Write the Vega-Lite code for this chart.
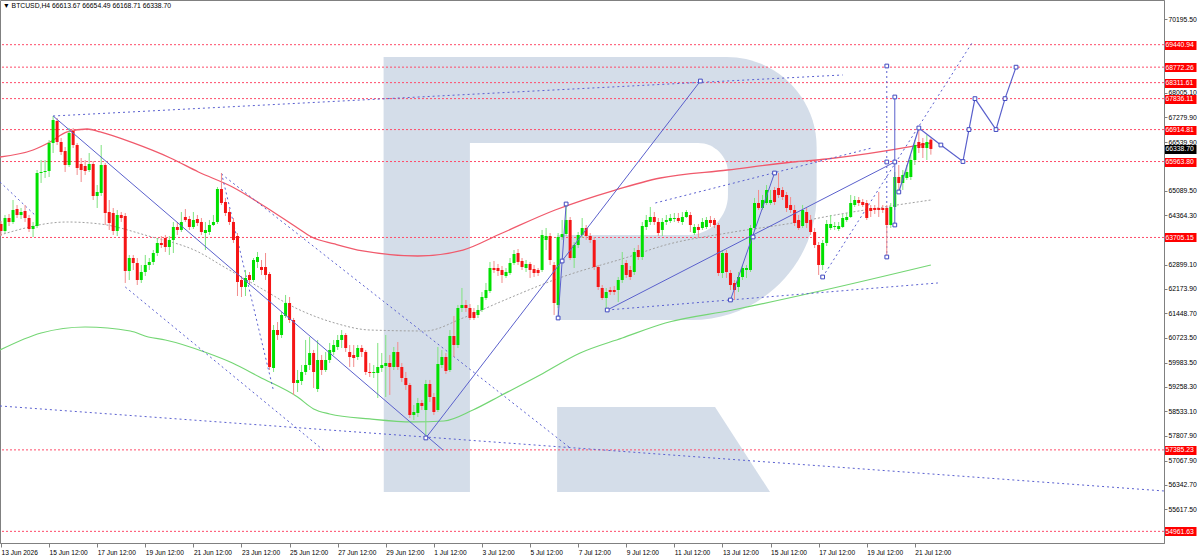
{
"$schema":"https://vega.github.io/schema/vega-lite/v6.json",
"width":1164,"height":543,
"autosize":{"type":"none"},
"padding":{"left":0,"top":0,"right":36,"bottom":12},
"background":"white",
"config":{"view":{"stroke":"#808080"},"font":"Liberation Sans"},
"title":{"text":"▼ BTCUSD,H4  66613.67 66654.49 66168.71 66338.70","anchor":"start","frame":"group","offset":-10,"dx":3,"fontSize":6.8,"fontWeight":"normal","font":"Liberation Sans","color":"#000000"},
"datasets":{
"logo":[
{"part":"bowl","t":"2026-06-29T10:00Z","t2":"2026-07-17T10:00Z","p":69074,"p2":61250},
{"part":"stem","t":"2026-06-29T10:00Z","t2":"2026-07-03T00:00Z","p":69074,"p2":56133},
{"part":"holeA","t":"2026-07-03T00:00Z","t2":"2026-07-13T17:30Z","p":66516,"p2":63779},
{"part":"holeB","t":"2026-07-03T00:00Z","t2":"2026-07-06T15:00Z","p":66516,"p2":61250}],
"leg":[
{"t":"2026-07-06T15:00Z","p":58662,"p2":56133},
{"t":"2026-07-13T04:36Z","p":58662,"p2":56133},
{"t":"2026-07-15T11:30Z","p":56133,"p2":56133}],
"lv":[{"p":69440.94},{"p":68772.26},{"p":68311.61},{"p":67836.11},{"p":66914.81},{"p":65963.80},{"p":63705.15},{"p":57385.23},{"p":54961.63}],
"ma":[
{"m":"red","t":"2026-06-13T11:00Z","p":66099},{"m":"red","t":"2026-06-14T20:00Z","p":66307},{"m":"red","t":"2026-06-15T13:00Z","p":66545},{"m":"red","t":"2026-06-16T06:00Z","p":66843},{"m":"red","t":"2026-06-17T02:00Z","p":66932},{"m":"red","t":"2026-06-17T15:00Z","p":66843},{"m":"red","t":"2026-06-19T00:00Z","p":66516},{"m":"red","t":"2026-06-20T13:00Z","p":66069},{"m":"red","t":"2026-06-21T17:00Z","p":65653},{"m":"red","t":"2026-06-23T03:00Z","p":65207},{"m":"red","t":"2026-06-24T12:00Z","p":64612},{"m":"red","t":"2026-06-25T20:00Z","p":63987},{"m":"red","t":"2026-06-26T10:00Z","p":63719},{"m":"red","t":"2026-06-27T09:00Z","p":63511},{"m":"red","t":"2026-06-28T13:00Z","p":63303},{"m":"red","t":"2026-06-30T20:00Z","p":63154},{"m":"red","t":"2026-07-02T17:00Z","p":63332},{"m":"red","t":"2026-07-04T06:00Z","p":63808},{"m":"red","t":"2026-07-06T13:00Z","p":64522},{"m":"red","t":"2026-07-09T01:00Z","p":65117},{"m":"red","t":"2026-07-10T22:00Z","p":65474},{"m":"red","t":"2026-07-13T17:00Z","p":65712},{"m":"red","t":"2026-07-16T10:00Z","p":65950},{"m":"red","t":"2026-07-17T20:00Z","p":66040},{"m":"red","t":"2026-07-21T12:00Z","p":66427},{"m":"red","t":"2026-07-22T04:00Z","p":66516},
{"m":"green","t":"2026-06-13T11:00Z","p":60357},{"m":"green","t":"2026-06-15T04:00Z","p":60863},{"m":"green","t":"2026-06-17T00:00Z","p":61042},{"m":"green","t":"2026-06-18T21:00Z","p":60923},{"m":"green","t":"2026-06-19T15:00Z","p":60744},{"m":"green","t":"2026-06-20T08:00Z","p":60655},{"m":"green","t":"2026-06-22T02:00Z","p":60268},{"m":"green","t":"2026-06-23T03:00Z","p":59971},{"m":"green","t":"2026-06-24T06:00Z","p":59554},{"m":"green","t":"2026-06-25T20:00Z","p":58959},{"m":"green","t":"2026-06-26T12:00Z","p":58602},{"m":"green","t":"2026-06-27T04:00Z","p":58454},{"m":"green","t":"2026-06-28T20:00Z","p":58305},{"m":"green","t":"2026-06-30T15:00Z","p":58216},{"m":"green","t":"2026-07-01T22:00Z","p":58245},{"m":"green","t":"2026-07-03T03:00Z","p":58572},{"m":"green","t":"2026-07-04T06:00Z","p":58989},{"m":"green","t":"2026-07-05T22:00Z","p":59614},{"m":"green","t":"2026-07-07T14:00Z","p":60268},{"m":"green","t":"2026-07-09T08:00Z","p":60714},{"m":"green","t":"2026-07-11T03:00Z","p":61161},{"m":"green","t":"2026-07-13T22:00Z","p":61547},{"m":"green","t":"2026-07-17T18:00Z","p":62142},{"m":"green","t":"2026-07-22T04:00Z","p":62886},
{"m":"gray","t":"2026-06-13T11:00Z","p":63779},{"m":"gray","t":"2026-06-16T06:00Z","p":64165},{"m":"gray","t":"2026-06-17T15:00Z","p":64106},{"m":"gray","t":"2026-06-19T15:00Z","p":63749},{"m":"gray","t":"2026-06-21T17:00Z","p":63273},{"m":"gray","t":"2026-06-22T17:00Z","p":62856},{"m":"gray","t":"2026-06-24T07:00Z","p":62202},{"m":"gray","t":"2026-06-25T18:00Z","p":61607},{"m":"gray","t":"2026-06-27T09:00Z","p":61161},{"m":"gray","t":"2026-06-28T20:00Z","p":60952},{"m":"gray","t":"2026-07-01T03:00Z","p":60923},{"m":"gray","t":"2026-07-02T17:00Z","p":61309},{"m":"gray","t":"2026-07-04T06:00Z","p":61785},{"m":"gray","t":"2026-07-06T20:00Z","p":62529},{"m":"gray","t":"2026-07-09T14:00Z","p":63124},{"m":"gray","t":"2026-07-11T03:00Z","p":63481},{"m":"gray","t":"2026-07-13T17:00Z","p":63838},{"m":"gray","t":"2026-07-16T10:00Z","p":64136},{"m":"gray","t":"2026-07-17T23:00Z","p":64344},{"m":"gray","t":"2026-07-22T04:00Z","p":64820}],
"seg":[
{"k":"s","t":"2026-06-15T16:00Z","p":67319,"t2":"2026-07-01T21:00Z","p2":57382},
{"k":"s","t":"2026-07-01T04:00Z","p":57740,"t2":"2026-07-12T14:00Z","p2":68360},
{"k":"s","t":"2026-07-06T16:00Z","p":61309,"t2":"2026-07-07T00:00Z","p2":64701},
{"k":"s","t":"2026-07-08T17:00Z","p":61547,"t2":"2026-07-20T16:00Z","p2":65950},
{"k":"s","t":"2026-07-13T20:00Z","p":61845,"t2":"2026-07-15T16:00Z","p2":65623},
{"k":"s","t":"2026-07-20T16:00Z","p":67884,"t2":"2026-07-20T16:00Z","p2":64076},
{"k":"d","t":"2026-06-15T16:00Z","p":67319,"t2":"2026-07-18T12:00Z","p2":68539},
{"k":"d","t":"2026-06-13T11:00Z","p":65355,"t2":"2026-06-15T01:00Z","p2":64284},
{"k":"d","t":"2026-06-18T16:00Z","p":62232,"t2":"2026-06-27T00:00Z","p2":57323},
{"k":"d","t":"2026-06-22T16:00Z","p":65623,"t2":"2026-06-24T20:00Z","p2":59138},
{"k":"d","t":"2026-06-22T16:00Z","p":65593,"t2":"2026-07-07T04:00Z","p2":57442},
{"k":"d","t":"2026-06-13T11:00Z","p":58692,"t2":"2026-07-31T20:40Z","p2":56163},
{"k":"d","t":"2026-07-08T17:00Z","p":61547,"t2":"2026-07-22T11:00Z","p2":62351},
{"k":"d","t":"2026-07-10T17:00Z","p":64731,"t2":"2026-07-19T17:00Z","p2":66367},
{"k":"d","t":"2026-07-17T16:00Z","p":62529,"t2":"2026-07-23T21:00Z","p2":69491},
{"k":"d","t":"2026-07-20T08:00Z","p":68806,"t2":"2026-07-20T08:00Z","p2":63124}],
"fc":[
{"t":"2026-07-20T20:00Z","p":65058},{"t":"2026-07-21T16:00Z","p":66962},{"t":"2026-07-22T14:00Z","p":66456},{"t":"2026-07-23T12:00Z","p":65964},{"t":"2026-07-23T18:00Z","p":66915},{"t":"2026-07-24T00:00Z","p":67836},{"t":"2026-07-24T21:00Z","p":66915},{"t":"2026-07-25T06:00Z","p":67836},{"t":"2026-07-25T17:00Z","p":68772}],
"pts":[
{"t":"2026-07-01T04:00Z","p":57740},{"t":"2026-07-06T16:00Z","p":61309},{"t":"2026-07-07T00:00Z","p":64701},{"t":"2026-07-06T20:00Z","p":63005},{"t":"2026-07-08T17:00Z","p":61547},{"t":"2026-07-12T14:00Z","p":68360},{"t":"2026-07-13T20:00Z","p":61845},{"t":"2026-07-15T16:00Z","p":65623},{"t":"2026-07-14T18:30Z","p":63719},{"t":"2026-07-17T16:00Z","p":62529},{"t":"2026-07-20T08:00Z","p":68806},{"t":"2026-07-20T08:00Z","p":65950},{"t":"2026-07-20T08:00Z","p":63124},{"t":"2026-07-20T16:00Z","p":67884},{"t":"2026-07-20T16:00Z","p":65950},{"t":"2026-07-20T16:00Z","p":64076},
{"t":"2026-07-20T20:00Z","p":65058},{"t":"2026-07-21T16:00Z","p":66962},{"t":"2026-07-22T14:00Z","p":66456},{"t":"2026-07-23T12:00Z","p":65964},{"t":"2026-07-23T18:00Z","p":66915},{"t":"2026-07-24T00:00Z","p":67836},{"t":"2026-07-24T21:00Z","p":66915},{"t":"2026-07-25T06:00Z","p":67836},{"t":"2026-07-25T17:00Z","p":68772}],
"k":[
{"t":"2026-06-13T12:00Z","o":64106,"h":64195,"l":63749,"c":63898},
{"t":"2026-06-13T16:00Z","o":63898,"h":64374,"l":63838,"c":64284},
{"t":"2026-06-13T20:00Z","o":64284,"h":64403,"l":64046,"c":64166},
{"t":"2026-06-14T00:00Z","o":64166,"h":64820,"l":64106,"c":64522},
{"t":"2026-06-14T04:00Z","o":64552,"h":64671,"l":64284,"c":64374},
{"t":"2026-06-14T08:00Z","o":64374,"h":64582,"l":64255,"c":64463},
{"t":"2026-06-14T12:00Z","o":64493,"h":64671,"l":64166,"c":64284},
{"t":"2026-06-14T16:00Z","o":64284,"h":64374,"l":63868,"c":63957},
{"t":"2026-06-14T20:00Z","o":63957,"h":64166,"l":63719,"c":64046},
{"t":"2026-06-15T00:00Z","o":64046,"h":65712,"l":63987,"c":65623},
{"t":"2026-06-15T04:00Z","o":65623,"h":66010,"l":65326,"c":65653},
{"t":"2026-06-15T08:00Z","o":65653,"h":66010,"l":65474,"c":65683},
{"t":"2026-06-15T12:00Z","o":65683,"h":66605,"l":65504,"c":66516},
{"t":"2026-06-15T16:00Z","o":66516,"h":67319,"l":66218,"c":67200},
{"t":"2026-06-15T20:00Z","o":67170,"h":67260,"l":66456,"c":66546},
{"t":"2026-06-16T00:00Z","o":66546,"h":66665,"l":66159,"c":66248},
{"t":"2026-06-16T04:00Z","o":66278,"h":66397,"l":65653,"c":65861},
{"t":"2026-06-16T08:00Z","o":65861,"h":66962,"l":65802,"c":66813},
{"t":"2026-06-16T12:00Z","o":66873,"h":66962,"l":66367,"c":66456},
{"t":"2026-06-16T16:00Z","o":66456,"h":66516,"l":65564,"c":65772},
{"t":"2026-06-16T20:00Z","o":65891,"h":66069,"l":65355,"c":65712},
{"t":"2026-06-17T00:00Z","o":65832,"h":66010,"l":65564,"c":65683},
{"t":"2026-06-17T04:00Z","o":65712,"h":66218,"l":65653,"c":65891},
{"t":"2026-06-17T08:00Z","o":65891,"h":65980,"l":64820,"c":64939},
{"t":"2026-06-17T12:00Z","o":64939,"h":65266,"l":64582,"c":65058},
{"t":"2026-06-17T16:00Z","o":65028,"h":66456,"l":64939,"c":65861},
{"t":"2026-06-17T20:00Z","o":65861,"h":65921,"l":64076,"c":64433},
{"t":"2026-06-18T00:00Z","o":64463,"h":64820,"l":63928,"c":64136},
{"t":"2026-06-18T04:00Z","o":64433,"h":64582,"l":63779,"c":63898},
{"t":"2026-06-18T08:00Z","o":63898,"h":64522,"l":63749,"c":64374},
{"t":"2026-06-18T12:00Z","o":64374,"h":64463,"l":64166,"c":64284},
{"t":"2026-06-18T16:00Z","o":64344,"h":64433,"l":62351,"c":62708},
{"t":"2026-06-18T20:00Z","o":62708,"h":63184,"l":62440,"c":63094},
{"t":"2026-06-19T00:00Z","o":63094,"h":63184,"l":62738,"c":62946},
{"t":"2026-06-19T04:00Z","o":62946,"h":63094,"l":62291,"c":62440},
{"t":"2026-06-19T08:00Z","o":62440,"h":62886,"l":62351,"c":62678},
{"t":"2026-06-19T12:00Z","o":62678,"h":63184,"l":62559,"c":62886},
{"t":"2026-06-19T16:00Z","o":62886,"h":63094,"l":62738,"c":62976},
{"t":"2026-06-19T20:00Z","o":62976,"h":63332,"l":62886,"c":63243},
{"t":"2026-06-20T00:00Z","o":63243,"h":63690,"l":63154,"c":63541},
{"t":"2026-06-20T04:00Z","o":63541,"h":63749,"l":63392,"c":63481},
{"t":"2026-06-20T08:00Z","o":63690,"h":63779,"l":63273,"c":63422},
{"t":"2026-06-20T12:00Z","o":63422,"h":63749,"l":63184,"c":63630},
{"t":"2026-06-20T16:00Z","o":63630,"h":64166,"l":63243,"c":64017},
{"t":"2026-06-20T20:00Z","o":64017,"h":64166,"l":63779,"c":63928},
{"t":"2026-06-21T00:00Z","o":63928,"h":64463,"l":63868,"c":64166},
{"t":"2026-06-21T04:00Z","o":64314,"h":64552,"l":64166,"c":64225},
{"t":"2026-06-21T08:00Z","o":64255,"h":64344,"l":63928,"c":64017},
{"t":"2026-06-21T12:00Z","o":64017,"h":64463,"l":63957,"c":64225},
{"t":"2026-06-21T16:00Z","o":64255,"h":64374,"l":64046,"c":64136},
{"t":"2026-06-21T20:00Z","o":64166,"h":64284,"l":63779,"c":63868},
{"t":"2026-06-22T00:00Z","o":63838,"h":64166,"l":63332,"c":63928},
{"t":"2026-06-22T04:00Z","o":63868,"h":64225,"l":63779,"c":64076},
{"t":"2026-06-22T08:00Z","o":64076,"h":64374,"l":64046,"c":64166},
{"t":"2026-06-22T12:00Z","o":64166,"h":65207,"l":64106,"c":65147},
{"t":"2026-06-22T16:00Z","o":65147,"h":65623,"l":64671,"c":64731},
{"t":"2026-06-22T20:00Z","o":64760,"h":64880,"l":64344,"c":64433},
{"t":"2026-06-23T00:00Z","o":64463,"h":64582,"l":64076,"c":64166},
{"t":"2026-06-23T04:00Z","o":64166,"h":64284,"l":63541,"c":63630},
{"t":"2026-06-23T08:00Z","o":63749,"h":63838,"l":61964,"c":62380},
{"t":"2026-06-23T12:00Z","o":62440,"h":62559,"l":61934,"c":62232},
{"t":"2026-06-23T16:00Z","o":62232,"h":62738,"l":61964,"c":62500},
{"t":"2026-06-23T20:00Z","o":62589,"h":62678,"l":62291,"c":62440},
{"t":"2026-06-24T00:00Z","o":62440,"h":63094,"l":62380,"c":63035},
{"t":"2026-06-24T04:00Z","o":62976,"h":63273,"l":62797,"c":63124},
{"t":"2026-06-24T08:00Z","o":62827,"h":63035,"l":62589,"c":62738},
{"t":"2026-06-24T12:00Z","o":62827,"h":63243,"l":62440,"c":62589},
{"t":"2026-06-24T16:00Z","o":62619,"h":62678,"l":59762,"c":59852},
{"t":"2026-06-24T20:00Z","o":59822,"h":61101,"l":59703,"c":60952},
{"t":"2026-06-25T00:00Z","o":60952,"h":61190,"l":60655,"c":60804},
{"t":"2026-06-25T04:00Z","o":60804,"h":61488,"l":60714,"c":61399},
{"t":"2026-06-25T08:00Z","o":61369,"h":61994,"l":61309,"c":61756},
{"t":"2026-06-25T12:00Z","o":61756,"h":61934,"l":61161,"c":61250},
{"t":"2026-06-25T16:00Z","o":61250,"h":61310,"l":59019,"c":59376},
{"t":"2026-06-25T20:00Z","o":59376,"h":59762,"l":59108,"c":59465},
{"t":"2026-06-26T00:00Z","o":59435,"h":59911,"l":59316,"c":59703},
{"t":"2026-06-26T04:00Z","o":59703,"h":60655,"l":59614,"c":59911},
{"t":"2026-06-26T08:00Z","o":59911,"h":60744,"l":59762,"c":60268},
{"t":"2026-06-26T12:00Z","o":60268,"h":60358,"l":59227,"c":59703},
{"t":"2026-06-26T16:00Z","o":59197,"h":60655,"l":59108,"c":60060},
{"t":"2026-06-26T20:00Z","o":60060,"h":60209,"l":59614,"c":59762},
{"t":"2026-06-27T00:00Z","o":59762,"h":60298,"l":59703,"c":60060},
{"t":"2026-06-27T04:00Z","o":60060,"h":60566,"l":59971,"c":60358},
{"t":"2026-06-27T08:00Z","o":60298,"h":60655,"l":60209,"c":60506},
{"t":"2026-06-27T12:00Z","o":60447,"h":60804,"l":60358,"c":60655},
{"t":"2026-06-27T16:00Z","o":60655,"h":60952,"l":60417,"c":60804},
{"t":"2026-06-27T20:00Z","o":60804,"h":60863,"l":60298,"c":60417},
{"t":"2026-06-28T00:00Z","o":60298,"h":60506,"l":59852,"c":60149},
{"t":"2026-06-28T04:00Z","o":60209,"h":60506,"l":59852,"c":60119},
{"t":"2026-06-28T08:00Z","o":60149,"h":60506,"l":60060,"c":60417},
{"t":"2026-06-28T12:00Z","o":60417,"h":60506,"l":60149,"c":60298},
{"t":"2026-06-28T16:00Z","o":60298,"h":60358,"l":59614,"c":59703},
{"t":"2026-06-28T20:00Z","o":59703,"h":59971,"l":59554,"c":59673},
{"t":"2026-06-29T00:00Z","o":59673,"h":59911,"l":59524,"c":59703},
{"t":"2026-06-29T04:00Z","o":59673,"h":60566,"l":58929,"c":59852},
{"t":"2026-06-29T08:00Z","o":59822,"h":60268,"l":59703,"c":59911},
{"t":"2026-06-29T12:00Z","o":59881,"h":60804,"l":58959,"c":59971},
{"t":"2026-06-29T16:00Z","o":59971,"h":60209,"l":59019,"c":59852},
{"t":"2026-06-29T20:00Z","o":59852,"h":60447,"l":59762,"c":60298},
{"t":"2026-06-30T00:00Z","o":60298,"h":60595,"l":59762,"c":59852},
{"t":"2026-06-30T04:00Z","o":59852,"h":59971,"l":59406,"c":59524},
{"t":"2026-06-30T08:00Z","o":59524,"h":59703,"l":59168,"c":59316},
{"t":"2026-06-30T12:00Z","o":59316,"h":59376,"l":58334,"c":58424},
{"t":"2026-06-30T16:00Z","o":58424,"h":58721,"l":58275,"c":58513},
{"t":"2026-06-30T20:00Z","o":58483,"h":58930,"l":58364,"c":58781},
{"t":"2026-07-01T00:00Z","o":58781,"h":58870,"l":58572,"c":58692},
{"t":"2026-07-01T04:00Z","o":58572,"h":59465,"l":57740,"c":59346},
{"t":"2026-07-01T08:00Z","o":59346,"h":59465,"l":58810,"c":58959},
{"t":"2026-07-01T12:00Z","o":58959,"h":59078,"l":58424,"c":58513},
{"t":"2026-07-01T16:00Z","o":58572,"h":60447,"l":58513,"c":59941},
{"t":"2026-07-01T20:00Z","o":59911,"h":60358,"l":59822,"c":60149},
{"t":"2026-07-02T00:00Z","o":60149,"h":60268,"l":59643,"c":59733},
{"t":"2026-07-02T04:00Z","o":59762,"h":60952,"l":59703,"c":60774},
{"t":"2026-07-02T08:00Z","o":60774,"h":61369,"l":60149,"c":60506},
{"t":"2026-07-02T12:00Z","o":60506,"h":61696,"l":60417,"c":61607},
{"t":"2026-07-02T16:00Z","o":61607,"h":62202,"l":61488,"c":61696},
{"t":"2026-07-02T20:00Z","o":61696,"h":61845,"l":61488,"c":61607},
{"t":"2026-07-03T00:00Z","o":61607,"h":61726,"l":61250,"c":61310},
{"t":"2026-07-03T04:00Z","o":61488,"h":61607,"l":61250,"c":61310},
{"t":"2026-07-03T08:00Z","o":61399,"h":61696,"l":61310,"c":61548},
{"t":"2026-07-03T12:00Z","o":61548,"h":62083,"l":61488,"c":61934},
{"t":"2026-07-03T16:00Z","o":61904,"h":62351,"l":61845,"c":62142},
{"t":"2026-07-03T20:00Z","o":62113,"h":62976,"l":62053,"c":62797},
{"t":"2026-07-04T00:00Z","o":62797,"h":63005,"l":62648,"c":62738},
{"t":"2026-07-04T04:00Z","o":62797,"h":62916,"l":62559,"c":62708},
{"t":"2026-07-04T08:00Z","o":62738,"h":62856,"l":62351,"c":62589},
{"t":"2026-07-04T12:00Z","o":62559,"h":62797,"l":62500,"c":62678},
{"t":"2026-07-04T16:00Z","o":62648,"h":63094,"l":62589,"c":62946},
{"t":"2026-07-04T20:00Z","o":62946,"h":63332,"l":62886,"c":63213},
{"t":"2026-07-05T00:00Z","o":63243,"h":63362,"l":62886,"c":62976},
{"t":"2026-07-05T04:00Z","o":63005,"h":63094,"l":62738,"c":62827},
{"t":"2026-07-05T08:00Z","o":62797,"h":63035,"l":62678,"c":62916},
{"t":"2026-07-05T12:00Z","o":62916,"h":62976,"l":62500,"c":62738},
{"t":"2026-07-05T16:00Z","o":62767,"h":62886,"l":62529,"c":62648},
{"t":"2026-07-05T20:00Z","o":62738,"h":62797,"l":62559,"c":62648},
{"t":"2026-07-06T00:00Z","o":62738,"h":63928,"l":62678,"c":63779},
{"t":"2026-07-06T04:00Z","o":63630,"h":63987,"l":63332,"c":63749},
{"t":"2026-07-06T08:00Z","o":63749,"h":63838,"l":62886,"c":63035},
{"t":"2026-07-06T12:00Z","o":62886,"h":62976,"l":61399,"c":61756},
{"t":"2026-07-06T16:00Z","o":61696,"h":63838,"l":61607,"c":63719},
{"t":"2026-07-06T20:00Z","o":63719,"h":64225,"l":63630,"c":63808},
{"t":"2026-07-07T00:00Z","o":63808,"h":64701,"l":63749,"c":64225},
{"t":"2026-07-07T04:00Z","o":64225,"h":64314,"l":63035,"c":63094},
{"t":"2026-07-07T08:00Z","o":63094,"h":63570,"l":62797,"c":63481},
{"t":"2026-07-07T12:00Z","o":63481,"h":63868,"l":63392,"c":63779},
{"t":"2026-07-07T16:00Z","o":63779,"h":64284,"l":63690,"c":63987},
{"t":"2026-07-07T20:00Z","o":63987,"h":64076,"l":63630,"c":63749},
{"t":"2026-07-08T00:00Z","o":63749,"h":63838,"l":63541,"c":63630},
{"t":"2026-07-08T04:00Z","o":63630,"h":63719,"l":62738,"c":62827},
{"t":"2026-07-08T08:00Z","o":62827,"h":62886,"l":62142,"c":62232},
{"t":"2026-07-08T12:00Z","o":62202,"h":62291,"l":61845,"c":61904},
{"t":"2026-07-08T16:00Z","o":61904,"h":62202,"l":61548,"c":62083},
{"t":"2026-07-08T20:00Z","o":62142,"h":62232,"l":61994,"c":62083},
{"t":"2026-07-09T00:00Z","o":62142,"h":62261,"l":61994,"c":62083},
{"t":"2026-07-09T04:00Z","o":62142,"h":62529,"l":61785,"c":62440},
{"t":"2026-07-09T08:00Z","o":62440,"h":63273,"l":62351,"c":62886},
{"t":"2026-07-09T12:00Z","o":62946,"h":63035,"l":62500,"c":62589},
{"t":"2026-07-09T16:00Z","o":62738,"h":62856,"l":62440,"c":62529},
{"t":"2026-07-09T20:00Z","o":62678,"h":63392,"l":62589,"c":63273},
{"t":"2026-07-10T00:00Z","o":63332,"h":63481,"l":63035,"c":63124},
{"t":"2026-07-10T04:00Z","o":63124,"h":64166,"l":63035,"c":64046},
{"t":"2026-07-10T08:00Z","o":64017,"h":64374,"l":63928,"c":64225},
{"t":"2026-07-10T12:00Z","o":64166,"h":64612,"l":64076,"c":64314},
{"t":"2026-07-10T16:00Z","o":64314,"h":64463,"l":64076,"c":64166},
{"t":"2026-07-10T20:00Z","o":64166,"h":64284,"l":63749,"c":63838},
{"t":"2026-07-11T00:00Z","o":63928,"h":64284,"l":63749,"c":64166},
{"t":"2026-07-11T04:00Z","o":64166,"h":64374,"l":64076,"c":64225},
{"t":"2026-07-11T08:00Z","o":64195,"h":64403,"l":64136,"c":64284},
{"t":"2026-07-11T12:00Z","o":64255,"h":64433,"l":64166,"c":64284},
{"t":"2026-07-11T16:00Z","o":64284,"h":64433,"l":64136,"c":64195},
{"t":"2026-07-11T20:00Z","o":64166,"h":64463,"l":64076,"c":64314},
{"t":"2026-07-12T00:00Z","o":64314,"h":64522,"l":64284,"c":64463},
{"t":"2026-07-12T04:00Z","o":64374,"h":64463,"l":63868,"c":64076},
{"t":"2026-07-12T08:00Z","o":63838,"h":64106,"l":63779,"c":64017},
{"t":"2026-07-12T12:00Z","o":64017,"h":64106,"l":63690,"c":63928},
{"t":"2026-07-12T16:00Z","o":63987,"h":64284,"l":63928,"c":64166},
{"t":"2026-07-12T20:00Z","o":64017,"h":64314,"l":63957,"c":64225},
{"t":"2026-07-13T00:00Z","o":64225,"h":64344,"l":64017,"c":64136},
{"t":"2026-07-13T04:00Z","o":64225,"h":64284,"l":63987,"c":64076},
{"t":"2026-07-13T08:00Z","o":64076,"h":64136,"l":62559,"c":62648},
{"t":"2026-07-13T12:00Z","o":62648,"h":63332,"l":62500,"c":63243},
{"t":"2026-07-13T16:00Z","o":63243,"h":63332,"l":62500,"c":62678},
{"t":"2026-07-13T20:00Z","o":62648,"h":62738,"l":62142,"c":62291},
{"t":"2026-07-14T00:00Z","o":62351,"h":62440,"l":61845,"c":62142},
{"t":"2026-07-14T04:00Z","o":62232,"h":62678,"l":62083,"c":62529},
{"t":"2026-07-14T08:00Z","o":62529,"h":62886,"l":62440,"c":62797},
{"t":"2026-07-14T12:00Z","o":62738,"h":62886,"l":62500,"c":62797},
{"t":"2026-07-14T16:00Z","o":62738,"h":64076,"l":62678,"c":63987},
{"t":"2026-07-14T20:00Z","o":63987,"h":64880,"l":63928,"c":64731},
{"t":"2026-07-15T00:00Z","o":64731,"h":65118,"l":64522,"c":64582},
{"t":"2026-07-15T04:00Z","o":64582,"h":64969,"l":64522,"c":64820},
{"t":"2026-07-15T08:00Z","o":64731,"h":65266,"l":64671,"c":65118},
{"t":"2026-07-15T12:00Z","o":64731,"h":65118,"l":64671,"c":64820},
{"t":"2026-07-15T16:00Z","o":65118,"h":65207,"l":64671,"c":64760},
{"t":"2026-07-15T20:00Z","o":65177,"h":65623,"l":64880,"c":64969},
{"t":"2026-07-16T00:00Z","o":65118,"h":65207,"l":64820,"c":64909},
{"t":"2026-07-16T04:00Z","o":64969,"h":65058,"l":64463,"c":64582},
{"t":"2026-07-16T08:00Z","o":64671,"h":64909,"l":64433,"c":64522},
{"t":"2026-07-16T12:00Z","o":64522,"h":64671,"l":64046,"c":64136},
{"t":"2026-07-16T16:00Z","o":64225,"h":64374,"l":63928,"c":63987},
{"t":"2026-07-16T20:00Z","o":64046,"h":64671,"l":63987,"c":64522},
{"t":"2026-07-17T00:00Z","o":64463,"h":64582,"l":63987,"c":64136},
{"t":"2026-07-17T04:00Z","o":64225,"h":64374,"l":63779,"c":63868},
{"t":"2026-07-17T08:00Z","o":63868,"h":63987,"l":63392,"c":63481},
{"t":"2026-07-17T12:00Z","o":63481,"h":63570,"l":62589,"c":62886},
{"t":"2026-07-17T16:00Z","o":62886,"h":63630,"l":62738,"c":63541},
{"t":"2026-07-17T20:00Z","o":63541,"h":64225,"l":63451,"c":64106},
{"t":"2026-07-18T00:00Z","o":63987,"h":64374,"l":63928,"c":64106},
{"t":"2026-07-18T04:00Z","o":64017,"h":64166,"l":63928,"c":64046},
{"t":"2026-07-18T08:00Z","o":63957,"h":64166,"l":63898,"c":64046},
{"t":"2026-07-18T12:00Z","o":64017,"h":64403,"l":63987,"c":64284},
{"t":"2026-07-18T16:00Z","o":64225,"h":64433,"l":64166,"c":64314},
{"t":"2026-07-18T20:00Z","o":64314,"h":64969,"l":64284,"c":64731},
{"t":"2026-07-19T00:00Z","o":64671,"h":64939,"l":64612,"c":64820},
{"t":"2026-07-19T04:00Z","o":64820,"h":64909,"l":64641,"c":64731},
{"t":"2026-07-19T08:00Z","o":64760,"h":64850,"l":64612,"c":64671},
{"t":"2026-07-19T12:00Z","o":64731,"h":64820,"l":64225,"c":64284},
{"t":"2026-07-19T16:00Z","o":64582,"h":64671,"l":64314,"c":64493},
{"t":"2026-07-19T20:00Z","o":64582,"h":64671,"l":64403,"c":64522},
{"t":"2026-07-20T00:00Z","o":64582,"h":65058,"l":64314,"c":64522},
{"t":"2026-07-20T04:00Z","o":64582,"h":64671,"l":64433,"c":64522},
{"t":"2026-07-20T08:00Z","o":64582,"h":64671,"l":63154,"c":64076},
{"t":"2026-07-20T12:00Z","o":64076,"h":64731,"l":63987,"c":64612},
{"t":"2026-07-20T16:00Z","o":64612,"h":65653,"l":64522,"c":65504},
{"t":"2026-07-20T20:00Z","o":65504,"h":65861,"l":65058,"c":65326},
{"t":"2026-07-21T00:00Z","o":65326,"h":65712,"l":65118,"c":65564},
{"t":"2026-07-21T04:00Z","o":65474,"h":65861,"l":65415,"c":65653},
{"t":"2026-07-21T08:00Z","o":65504,"h":66159,"l":65415,"c":66010},
{"t":"2026-07-21T12:00Z","o":66010,"h":66605,"l":65861,"c":66456},
{"t":"2026-07-21T16:00Z","o":66546,"h":66962,"l":66218,"c":66367},
{"t":"2026-07-21T20:00Z","o":66516,"h":66665,"l":66069,"c":66367},
{"t":"2026-07-22T00:00Z","o":66367,"h":66754,"l":66010,"c":66546},
{"t":"2026-07-22T04:00Z","o":66613.67,"h":66654.49,"l":66168.71,"c":66338.70}]
},
"layer":[
{"data":{"name":"logo"},"transform":[{"filter":"datum.part == 'bowl'"}],
 "mark":{"type":"rect","color":"#d4dde9","cornerRadiusTopRight":90,"cornerRadiusBottomRight":125},
 "encoding":{
  "x":{"field":"t","type":"temporal","title":null,
   "scale":{"type":"utc","domain":[{"year":2026,"month":6,"date":13,"hours":11,"utc":true},{"year":2026,"month":7,"date":31,"hours":20,"minutes":40,"utc":true}]},
   "axis":{"grid":false,"title":null,"orient":"bottom","tickCount":200,
    "values":[{"year":2026,"month":6,"date":13,"hours":12,"utc":true},{"year":2026,"month":6,"date":15,"hours":12,"utc":true},{"year":2026,"month":6,"date":17,"hours":12,"utc":true},{"year":2026,"month":6,"date":19,"hours":12,"utc":true},{"year":2026,"month":6,"date":21,"hours":12,"utc":true},{"year":2026,"month":6,"date":23,"hours":12,"utc":true},{"year":2026,"month":6,"date":25,"hours":12,"utc":true},{"year":2026,"month":6,"date":27,"hours":12,"utc":true},{"year":2026,"month":6,"date":29,"hours":12,"utc":true},{"year":2026,"month":7,"date":1,"hours":12,"utc":true},{"year":2026,"month":7,"date":3,"hours":12,"utc":true},{"year":2026,"month":7,"date":5,"hours":12,"utc":true},{"year":2026,"month":7,"date":7,"hours":12,"utc":true},{"year":2026,"month":7,"date":9,"hours":12,"utc":true},{"year":2026,"month":7,"date":11,"hours":12,"utc":true},{"year":2026,"month":7,"date":13,"hours":12,"utc":true},{"year":2026,"month":7,"date":15,"hours":12,"utc":true},{"year":2026,"month":7,"date":17,"hours":12,"utc":true},{"year":2026,"month":7,"date":19,"hours":12,"utc":true},{"year":2026,"month":7,"date":21,"hours":12,"utc":true}],
    "labelExpr":"(utcdate(datum.value) == 13 && utcmonth(datum.value) == 5) ? '13 Jun 2026' : utcFormat(datum.value, '%-d %b %H:%M')",
    "labelAlign":"left","labelBaseline":"top","labelPadding":2,"labelFlush":false,"labelOverlap":false,
    "labelFont":"Liberation Sans","labelFontSize":6.6,"labelColor":"#000000",
    "tickSize":4,"tickColor":"#808080","domainColor":"#808080"}},
  "x2":{"field":"t2"},
  "y":{"field":"p","type":"quantitative","title":null,
   "scale":{"domain":[54615,70770],"zero":false,"nice":false},
   "axis":{"orient":"right","grid":false,"title":null,"format":".2f","tickCount":200,
    "values":[70195.5,69440.94,68772.26,68311.61,68005.1,67836.11,67279.9,66914.81,66539.9,66338.7,65963.8,65089.5,64364.3,63705.15,62899.1,62173.9,61448.7,60723.5,59983.5,59258.3,58533.1,57807.9,57385.23,57067.9,56342.7,55617.5,54961.63],
    "labelOverlap":false,"labelFlush":false,"labelFont":"Liberation Sans","labelFontSize":6.8,"labelBaseline":"middle",
    "domainColor":"#808080",
    "tickColor":{"condition":[{"test":"datum.value == 66338.7","value":"#000000"},{"test":"indexof([69440.94,68772.26,68311.61,67836.11,66914.81,65963.8,63705.15,57385.23,54961.63], datum.value) >= 0","value":"#ff0000"}],"value":"#808080"},
    "tickSize":{"condition":{"test":"indexof([69440.94,68772.26,68311.61,67836.11,66914.81,65963.8,63705.15,57385.23,54961.63,66338.7], datum.value) >= 0","value":32},"value":3},
    "tickWidth":{"condition":{"test":"indexof([69440.94,68772.26,68311.61,67836.11,66914.81,65963.8,63705.15,57385.23,54961.63,66338.7], datum.value) >= 0","value":9},"value":1},
    "labelPadding":{"condition":{"test":"indexof([69440.94,68772.26,68311.61,67836.11,66914.81,65963.8,63705.15,57385.23,54961.63,66338.7], datum.value) >= 0","value":-31},"value":1},
    "labelColor":{"condition":{"test":"indexof([69440.94,68772.26,68311.61,67836.11,66914.81,65963.8,63705.15,57385.23,54961.63,66338.7], datum.value) >= 0","value":"#ffffff"},"value":"#000000"}}},
  "y2":{"field":"p2"}}},
{"data":{"name":"logo"},"transform":[{"filter":"datum.part == 'stem'"}],
 "mark":{"type":"rect","color":"#d4dde9"},
 "encoding":{"x":{"field":"t","type":"temporal","title":null},"x2":{"field":"t2"},"y":{"field":"p","type":"quantitative","title":null},"y2":{"field":"p2"}}},
{"data":{"name":"logo"},"transform":[{"filter":"datum.part == 'holeA'"}],
 "mark":{"type":"rect","color":"#ffffff","cornerRadiusTopRight":30,"cornerRadiusBottomRight":40},
 "encoding":{"x":{"field":"t","type":"temporal","title":null},"x2":{"field":"t2"},"y":{"field":"p","type":"quantitative","title":null},"y2":{"field":"p2"}}},
{"data":{"name":"logo"},"transform":[{"filter":"datum.part == 'holeB'"}],
 "mark":{"type":"rect","color":"#ffffff"},
 "encoding":{"x":{"field":"t","type":"temporal","title":null},"x2":{"field":"t2"},"y":{"field":"p","type":"quantitative","title":null},"y2":{"field":"p2"}}},
{"data":{"name":"leg"},
 "mark":{"type":"area","color":"#d4dde9","opacity":1},
 "encoding":{"x":{"field":"t","type":"temporal","title":null},"y":{"field":"p","type":"quantitative","title":null},"y2":{"field":"p2"}}},
{"data":{"name":"lv"},
 "mark":{"type":"rule","color":"#ff4a68","strokeWidth":1,"strokeDash":[2,2]},
 "encoding":{"y":{"field":"p","type":"quantitative","title":null}}},
{"data":{"name":"ma"},"transform":[{"filter":"datum.m == 'green'"}],
 "mark":{"type":"line","color":"#74d674","strokeWidth":1.2,"interpolate":"monotone","clip":true},
 "encoding":{"x":{"field":"t","type":"temporal","title":null},"y":{"field":"p","type":"quantitative","title":null}}},
{"data":{"name":"ma"},"transform":[{"filter":"datum.m == 'gray'"}],
 "mark":{"type":"line","color":"#a0a0a0","strokeWidth":1,"strokeDash":[2,2],"interpolate":"monotone","clip":true},
 "encoding":{"x":{"field":"t","type":"temporal","title":null},"y":{"field":"p","type":"quantitative","title":null}}},
{"data":{"name":"ma"},"transform":[{"filter":"datum.m == 'red'"}],
 "mark":{"type":"line","color":"#f05a6c","strokeWidth":1.3,"interpolate":"monotone","clip":true},
 "encoding":{"x":{"field":"t","type":"temporal","title":null},"y":{"field":"p","type":"quantitative","title":null}}},
{"data":{"name":"seg"},"transform":[{"filter":"datum.k == 'd'"}],
 "mark":{"type":"rule","color":"#5a60d0","strokeWidth":1,"strokeDash":[2,3],"clip":true},
 "encoding":{"x":{"field":"t","type":"temporal","title":null},"x2":{"field":"t2"},"y":{"field":"p","type":"quantitative","title":null},"y2":{"field":"p2"}}},
{"data":{"name":"k"},
 "mark":{"type":"rule","strokeWidth":1},
 "encoding":{"x":{"field":"t","type":"temporal","title":null},"y":{"field":"h","type":"quantitative","title":null},"y2":{"field":"l"},
  "color":{"condition":{"test":"datum.c >= datum.o","value":"#7fe37f"},"value":"#f28c8c"}}},
{"data":{"name":"k"},
 "mark":{"type":"rule","strokeWidth":3,"strokeCap":"butt"},
 "encoding":{"x":{"field":"t","type":"temporal","title":null},"y":{"field":"o","type":"quantitative","title":null},"y2":{"field":"c"},
  "color":{"condition":{"test":"datum.c >= datum.o","value":"#00e000"},"value":"#f51515"}}},
{"data":{"name":"seg"},"transform":[{"filter":"datum.k == 's'"}],
 "mark":{"type":"rule","color":"#5a60cc","strokeWidth":1,"clip":true},
 "encoding":{"x":{"field":"t","type":"temporal","title":null},"x2":{"field":"t2"},"y":{"field":"p","type":"quantitative","title":null},"y2":{"field":"p2"}}},
{"data":{"name":"fc"},
 "mark":{"type":"line","color":"#5a60cc","strokeWidth":1.2},
 "encoding":{"x":{"field":"t","type":"temporal","title":null},"y":{"field":"p","type":"quantitative","title":null}}},
{"data":{"name":"pts"},
 "mark":{"type":"point","shape":"square","size":14,"filled":true,"fill":"#ffffff","stroke":"#4048c0","strokeWidth":1,"opacity":1},
 "encoding":{"x":{"field":"t","type":"temporal","title":null},"y":{"field":"p","type":"quantitative","title":null}}}
]
}
